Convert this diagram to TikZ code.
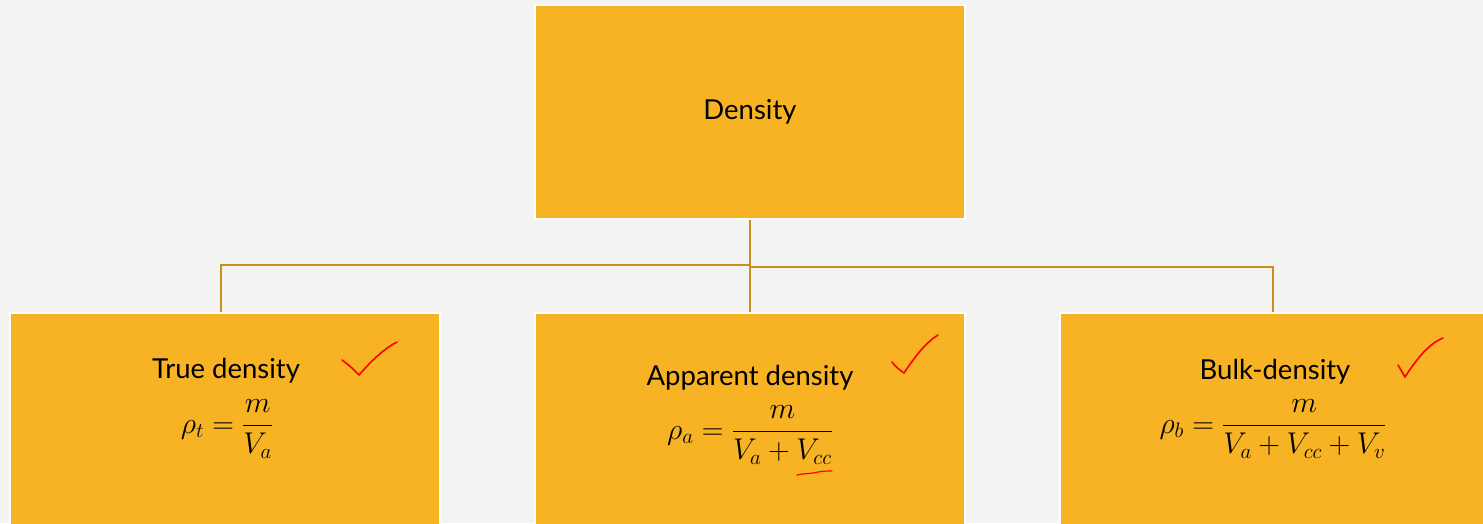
\RequirePackage{fix-cm}
\documentclass[tikz,border=0pt]{standalone}
\usepackage{amsmath}
\usepackage{fontspec}
\setmainfont{Lato}
\definecolor{hgrund}{RGB}{243,243,241}
\definecolor{boxgold}{RGB}{247,179,36}
\definecolor{liniegold}{RGB}{200,144,30}

\begin{document}
\begin{tikzpicture}[x=1pt, y=-1pt,
        box/.style={fill=boxgold, draw=white, line width=2pt, inner sep=0pt},
        link/.style={draw=liniegold, line width=2pt},
        titel/.style={font=\fontsize{27.5}{32}\selectfont, inner sep=1pt},
        formel/.style={font=\fontsize{30}{36}\selectfont, inner sep=1pt},
        haken/.style={draw=red, line width=1.6pt, line cap=round, line join=round}]
        %Hintergrund
        \useasboundingbox[fill=hgrund] (0,0) rectangle (1483,523);
        % Kaesten zeichnen
        \node[box, minimum width=430, minimum height=214] (dens) at (750,111.5) {};
        \node[box, minimum width=430, minimum height=233, anchor=north] (true) at (225,312) {};
        \node[box, minimum width=430, minimum height=233, anchor=north] (appar) at (750,312) {};
        \node[box, minimum width=426, minimum height=233, anchor=north] (bulk) at (1273,312) {};
        % Verbindungen
        \coordinate (jl) at (749.5,265);
        \coordinate (jr) at (749.5,267);
        \draw[link] (dens.south) -- (appar.north);
        \draw[link] (jl) -| ([xshift=-4]true.north);
        \draw[link] (jr) -| (bulk.north);
        % Beschriftung
        \node[titel] (densT) at (750,112) {Density};
        \node[titel] (trueT) at (226,371) {True density};
        \node[formel] (trueF) at (227,429) {$\displaystyle \rho_t=\frac{m}{V_a}$};
        \node[titel] (apparT) at (750,378) {Apparent density};
        \node[formel] (apparF) at (750,435) {$\displaystyle \rho_a=\frac{m}{V_a+V_{cc}}$};
        \node[titel] (bulkT) at (1275,372) {Bulk-density};
        \node[formel] (bulkF) at (1273,429) {$\displaystyle \rho_b=\frac{m}{V_a+V_{cc}+V_v}$};
        % Haken
        \draw[haken] (342,360) .. controls (350,366) .. (359,375) .. controls (372,360) and (385,348) .. (397,342);
        \draw[haken] (892,362) .. controls (897,368) .. (904,373) .. controls (914,358) and (925,343) .. (938,335);
        \draw[haken] (1398,365) .. controls (1401,371) .. (1405,377) .. controls (1416,360) and (1428,344) .. (1443,338);
        \draw[haken, line width=1.2pt] (797,475) .. controls (805,473) and (812,474) .. (818,472) .. controls (824,471) and (828,471) .. (832,471);
\end{tikzpicture}
\end{document}
